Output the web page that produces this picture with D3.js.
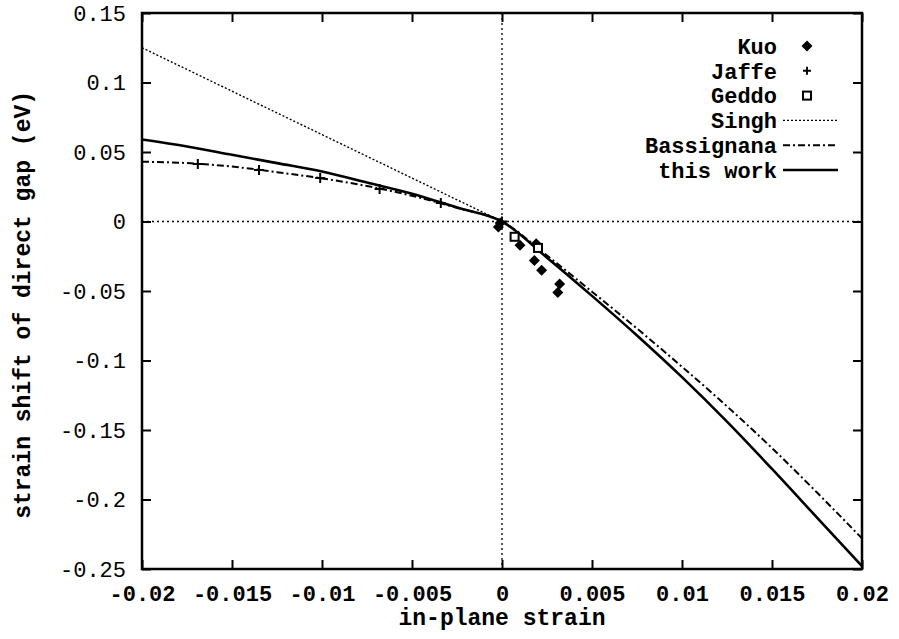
<!DOCTYPE html>
<html>
<head>
<meta charset="utf-8">
<script src="https://cdn.jsdelivr.net/npm/d3@7"></script>
<style>
  body { margin: 0; background: #fff; }
  svg text { font-family: "Liberation Mono", "DejaVu Sans Mono", monospace; fill: #000; }
</style>
</head>
<body>
<svg id="chart" width="899" height="639"></svg>
<script>
// data
const xTicks = [-0.02, -0.015, -0.01, -0.005, 0, 0.005, 0.01, 0.015, 0.02];
const yTicks = [0.15, 0.1, 0.05, 0, -0.05, -0.1, -0.15, -0.2, -0.25];

const kuoX = [-0.0001, -0.0002, 0.001, 0.0019, 0.0018, 0.0022, 0.0032, 0.0031];
const kuoY = [-0.001, -0.004, -0.017, -0.016, -0.028, -0.035, -0.045, -0.051];

const jaffeX = [-0.0169, -0.0135, -0.0101, -0.0068, -0.0034, 0];
const jaffeY = [0.0414, 0.037, 0.0313, 0.0234, 0.0133, 0];

const geddoX = [0.0007, 0.002];
const geddoY = [-0.011, -0.019];

const singhX = [-0.02, 0];
const singhY = [0.125, 0];

const bassX = [-0.02, -0.0175, -0.015, -0.0125, -0.01, -0.0075, -0.005, -0.0025, 0,
  0.0025, 0.005, 0.0075, 0.01, 0.0125, 0.015, 0.0175, 0.02];
const bassY = [0.043, 0.042, 0.0395, 0.0355, 0.031, 0.0255, 0.0185, 0.0098, 0,
  -0.0245, -0.0505, -0.077, -0.1045, -0.133, -0.163, -0.195, -0.228];

const workX = [-0.02, -0.0175, -0.015, -0.0125, -0.01, -0.0075, -0.005, -0.0025, 0,
  0.0025, 0.005, 0.0075, 0.01, 0.0125, 0.015, 0.0175, 0.02];
const workY = [0.059, 0.054, 0.048, 0.042, 0.036, 0.028, 0.020, 0.010, 0,
  -0.026, -0.0535, -0.082, -0.112, -0.144, -0.178, -0.213, -0.248];

const zip = (xs, ys) => xs.map((x, i) => ({ x: x, y: ys[i] }));

const margin = { top: 13, right: 37, bottom: 70, left: 142 };
const W = 899, H = 639;
const width = W - margin.left - margin.right;
const height = H - margin.top - margin.bottom;

const svg = d3.select('#chart');
const g = svg.append('g').attr('transform', `translate(${margin.left},${margin.top})`);

const x = d3.scaleLinear().domain([-0.02, 0.02]).range([0, width]);
const y = d3.scaleLinear().domain([-0.25, 0.15]).range([height, 0]);

// zero lines
g.append('line')
  .attr('x1', 0).attr('x2', width).attr('y1', y(0)).attr('y2', y(0))
  .attr('stroke', '#000').attr('stroke-width', 1.3).attr('stroke-dasharray', '2,3');
g.append('line')
  .attr('x1', x(0)).attr('x2', x(0)).attr('y1', 0).attr('y2', height)
  .attr('stroke', '#000').attr('stroke-width', 1.3).attr('stroke-dasharray', '2,3');

// axes
const fmt = d => d === 0 ? '0' : String(d);

const xAxis = g.append('g')
  .attr('transform', `translate(0,${height})`)
  .call(d3.axisBottom(x).tickValues(xTicks).tickFormat(fmt).tickSize(-9).tickPadding(16));
xAxis.selectAll('text').style('font-size', '22px').style('font-weight', 'bold');

g.append('g')
  .call(d3.axisTop(x).tickValues(xTicks).tickFormat('').tickSize(-9));

const yAxis = g.append('g')
  .call(d3.axisLeft(y).tickValues(yTicks).tickFormat(fmt).tickSize(-9).tickPadding(16));
yAxis.selectAll('text').style('font-size', '22px');

g.append('g')
  .attr('transform', `translate(${width},0)`)
  .call(d3.axisRight(y).tickValues(yTicks).tickFormat('').tickSize(-9));

g.selectAll('.domain').remove();
g.selectAll('.tick line').attr('stroke-width', 2);

g.append('rect')
  .attr('width', width).attr('height', height)
  .attr('fill', 'none').attr('stroke', '#000').attr('stroke-width', 2.5);

// lines
const line = d3.line().x(d => x(d.x)).y(d => y(d.y)).curve(d3.curveMonotoneX);

const series = [
  { name: 'Singh', data: zip(singhX, singhY), w: 1.4, dash: '2,2' },
  { name: 'Bassignana', data: zip(bassX, bassY), w: 2, dash: '7,3,2,3' },
  { name: 'this work', data: zip(workX, workY), w: 2.6, dash: null }
];

series.forEach(s => {
  g.append('path')
    .datum(s.data)
    .attr('d', line)
    .attr('fill', 'none')
    .attr('stroke', '#000')
    .attr('stroke-width', s.w)
    .attr('stroke-dasharray', s.dash);
});

// markers
const diamond = 'M0,-5.5L5.5,0L0,5.5L-5.5,0Z';
const plus = 'M-5,0H5M0,-5V5';

g.selectAll('.kuo')
  .data(zip(kuoX, kuoY))
  .enter().append('path')
  .attr('transform', d => `translate(${x(d.x)},${y(d.y)})`)
  .attr('d', diamond)
  .attr('fill', '#000');

g.selectAll('.jaffe')
  .data(zip(jaffeX, jaffeY))
  .enter().append('path')
  .attr('transform', d => `translate(${x(d.x)},${y(d.y)})`)
  .attr('d', plus)
  .attr('fill', 'none').attr('stroke', '#000').attr('stroke-width', 2);

g.selectAll('.geddo')
  .data(zip(geddoX, geddoY))
  .enter().append('rect')
  .attr('x', d => x(d.x) - 4).attr('y', d => y(d.y) - 4)
  .attr('width', 8).attr('height', 8)
  .attr('fill', '#fff').attr('stroke', '#000').attr('stroke-width', 2);

// legend
const legend = g.append('g').attr('transform', `translate(${635 - margin.left},0)`);
const legendItems = ['Kuo', 'Jaffe', 'Geddo', 'Singh', 'Bassignana', 'this work'];
const rowY = i => 46 - margin.top + i * 24.8;
const lx = 777 - 635;

legendItems.forEach((name, i) => {
  legend.append('text')
    .attr('x', lx).attr('y', rowY(i)).attr('dy', '0.35em')
    .attr('text-anchor', 'end')
    .style('font-size', '22px').style('font-weight', 'bold')
    .text(name);
});

const mx = 807 - 635;
legend.append('path').attr('transform', `translate(${mx},${rowY(0)})`).attr('d', diamond).attr('fill', '#000');
legend.append('path').attr('transform', `translate(${mx},${rowY(1)}) scale(0.8)`).attr('d', plus)
  .attr('stroke', '#000').attr('stroke-width', 2.4);
legend.append('rect').attr('x', mx - 4).attr('y', rowY(2) - 4).attr('width', 8).attr('height', 8)
  .attr('fill', '#fff').attr('stroke', '#000').attr('stroke-width', 2);

series.forEach((s, i) => {
  legend.append('line')
    .attr('x1', 783 - 635).attr('x2', 838 - 635)
    .attr('y1', rowY(3 + i)).attr('y2', rowY(3 + i))
    .attr('stroke', '#000').attr('stroke-width', s.w)
    .attr('stroke-dasharray', s.dash);
});

// axis titles
svg.append('text')
  .attr('x', margin.left + x(0)).attr('y', 625)
  .attr('text-anchor', 'middle')
  .style('font-size', '23px').style('font-weight', 'bold')
  .text('in-plane strain');

svg.append('text')
  .attr('transform', `translate(22,${margin.top + y(-0.06)}) rotate(-90)`)
  .attr('text-anchor', 'middle').attr('dy', '0.35em')
  .style('font-size', '23px').style('font-weight', 'bold')
  .text('strain shift of direct gap (eV)');
</script>
</body>
</html>
